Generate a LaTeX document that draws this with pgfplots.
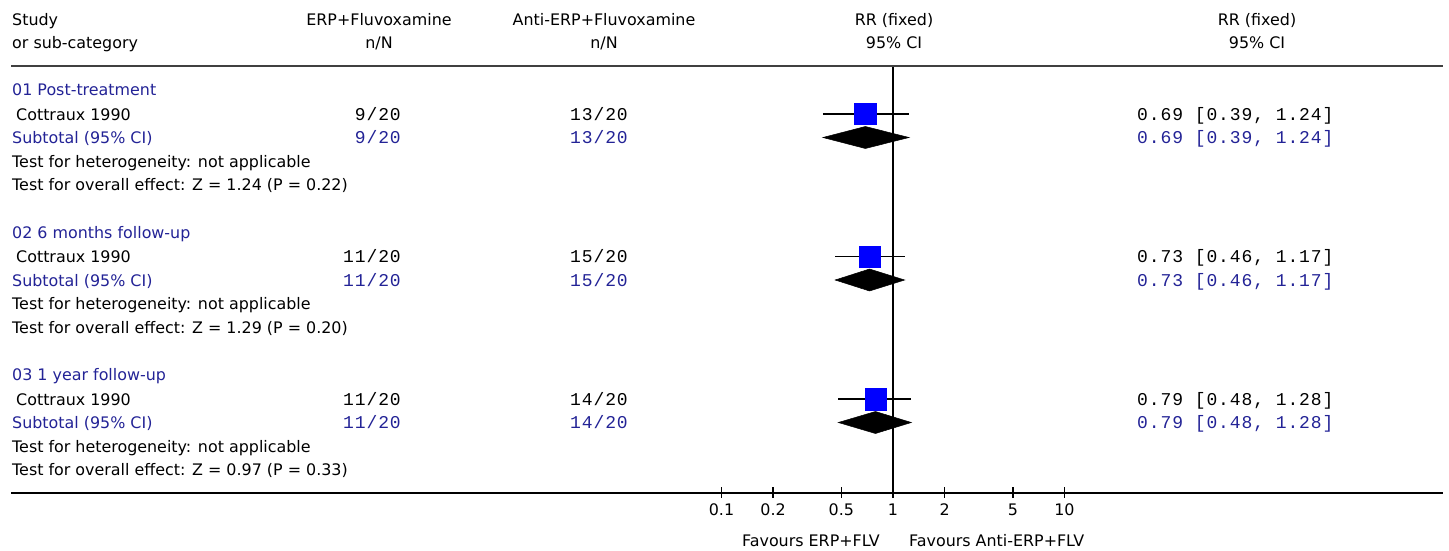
\documentclass[border=0pt]{standalone}
\usepackage{pgfplots}
\pgfplotsset{compat=1.18}
\usepackage{fontspec}
\setmainfont{DejaVu Sans}
\newfontfamily\mono[LetterSpace=5]{Liberation Mono}
\definecolor{rmblue}{RGB}{35,35,150}
\newcommand\tf{\fontsize{15.9}{18}\selectfont}
\newcommand\mf{\fontsize{18}{20}\selectfont\mono}

\begin{document}
\begin{tikzpicture}
\begin{axis}[
  scale only axis, width=1449pt, height=551pt,
  xmode=log, xmin=6.209e-6, xmax=1746,
  ymin=0, ymax=551, y dir=reverse,
  hide axis, clip=false,
]
% line of no effect
\addplot[black, line width=1.4pt] coordinates {(1,66) (1,493)};
% scale ticks and labels
\pgfplotsinvokeforeach{0.1,0.2,0.5,1,2,5,10}{
  \addplot[black, line width=1.6pt] coordinates {(#1,487) (#1,498)};
  \node[anchor=base, inner sep=0pt, font=\tf] at (axis cs:#1,515) {#1};
}
% ---- 01 Post-treatment
\addplot[only marks, mark=square*, mark size=10.7pt, mark options={fill=blue, draw=blue}] coordinates {(0.69,114)};
\addplot[black, line width=1.3pt] coordinates {(0.39,114) (1.24,114)};
\addplot[fill=black, draw=black, line width=0.5pt] coordinates {(0.39,137.5) (0.69,126.5) (1.24,137.5) (0.69,148.5)} --cycle;
% ---- 02 6 months follow-up
\addplot[only marks, mark=square*, mark size=10.7pt, mark options={fill=blue, draw=blue}] coordinates {(0.73,256.5)};
\addplot[black, line width=1.3pt] coordinates {(0.46,256.5) (1.17,256.5)};
\addplot[fill=black, draw=black, line width=0.5pt] coordinates {(0.46,280) (0.73,269) (1.17,280) (0.73,291)} --cycle;
% ---- 03 1 year follow-up
\addplot[only marks, mark=square*, mark size=10.7pt, mark options={fill=blue, draw=blue}] coordinates {(0.79,399)};
\addplot[black, line width=1.3pt] coordinates {(0.48,399) (1.28,399)};
\addplot[fill=black, draw=black, line width=0.5pt] coordinates {(0.48,422.5) (0.79,411.5) (1.28,422.5) (0.79,433.5)} --cycle;
\end{axis}

\begin{scope}[shift={(0pt,551pt)}, x=1pt, y=-1pt, every node/.style={inner sep=0pt, font=\tf}]
% rules
\draw[black!75, line width=2pt] (11,66) -- (1443,66);
\draw[black, line width=1.7pt] (11,493) -- (1443,493);
% headers
\node[anchor=base west] at (12,26) {Study};
\node[anchor=base west] at (12,48.5) {or sub-category};
\node[anchor=base] at (379,26) {ERP+Fluvoxamine};
\node[anchor=base] at (379,48.5) {n/N};
\node[anchor=base] at (604,26) {Anti-ERP+Fluvoxamine};
\node[anchor=base] at (604,48.5) {n/N};
\node[anchor=base] at (894,26) {RR (fixed)};
\node[anchor=base] at (894,48.5) {95\% CI};
\node[anchor=base] at (1257,26) {RR (fixed)};
\node[anchor=base] at (1257,48.5) {95\% CI};
% block 1
\node[anchor=base west, text=rmblue] at (12,96) {01 Post-treatment};
\node[anchor=base west] at (16,120.5) {Cottraux 1990};
\node[anchor=base east, font=\mf] at (401,120.5) {9/20};
\node[anchor=base east, font=\mf] at (628,120.5) {13/20};
\node[anchor=base west, font=\mf] at (1137,120.5) {0.69 [0.39, 1.24]};
\node[anchor=base west, text=rmblue] at (12,144) {Subtotal (95\% CI)};
\node[anchor=base east, font=\mf, text=rmblue] at (401,144) {9/20};
\node[anchor=base east, font=\mf, text=rmblue] at (628,144) {13/20};
\node[anchor=base west, font=\mf, text=rmblue] at (1137,144) {0.69 [0.39, 1.24]};
\node[anchor=base west] at (12,167.5) {Test for heterogeneity: not applicable};
\node[anchor=base west] at (12,191) {Test for overall effect: Z = 1.24 (P = 0.22)};
% block 2
\node[anchor=base west, text=rmblue] at (12,238.5) {02 6 months follow-up};
\node[anchor=base west] at (16,263) {Cottraux 1990};
\node[anchor=base east, font=\mf] at (401,263) {11/20};
\node[anchor=base east, font=\mf] at (628,263) {15/20};
\node[anchor=base west, font=\mf] at (1137,263) {0.73 [0.46, 1.17]};
\node[anchor=base west, text=rmblue] at (12,286.5) {Subtotal (95\% CI)};
\node[anchor=base east, font=\mf, text=rmblue] at (401,286.5) {11/20};
\node[anchor=base east, font=\mf, text=rmblue] at (628,286.5) {15/20};
\node[anchor=base west, font=\mf, text=rmblue] at (1137,286.5) {0.73 [0.46, 1.17]};
\node[anchor=base west] at (12,310) {Test for heterogeneity: not applicable};
\node[anchor=base west] at (12,333.5) {Test for overall effect: Z = 1.29 (P = 0.20)};
% block 3
\node[anchor=base west, text=rmblue] at (12,381) {03 1 year follow-up};
\node[anchor=base west] at (16,405.5) {Cottraux 1990};
\node[anchor=base east, font=\mf] at (401,405.5) {11/20};
\node[anchor=base east, font=\mf] at (628,405.5) {14/20};
\node[anchor=base west, font=\mf] at (1137,405.5) {0.79 [0.48, 1.28]};
\node[anchor=base west, text=rmblue] at (12,429) {Subtotal (95\% CI)};
\node[anchor=base east, font=\mf, text=rmblue] at (401,429) {11/20};
\node[anchor=base east, font=\mf, text=rmblue] at (628,429) {14/20};
\node[anchor=base west, font=\mf, text=rmblue] at (1137,429) {0.79 [0.48, 1.28]};
\node[anchor=base west] at (12,452.5) {Test for heterogeneity: not applicable};
\node[anchor=base west] at (12,476) {Test for overall effect: Z = 0.97 (P = 0.33)};
% favours
\node[anchor=base east] at (880,547) {Favours ERP+FLV};
\node[anchor=base west] at (909,547) {Favours Anti-ERP+FLV};
\end{scope}
\pgfresetboundingbox
\useasboundingbox (0,0) rectangle (1449pt,551pt);
\end{tikzpicture}
\end{document}
